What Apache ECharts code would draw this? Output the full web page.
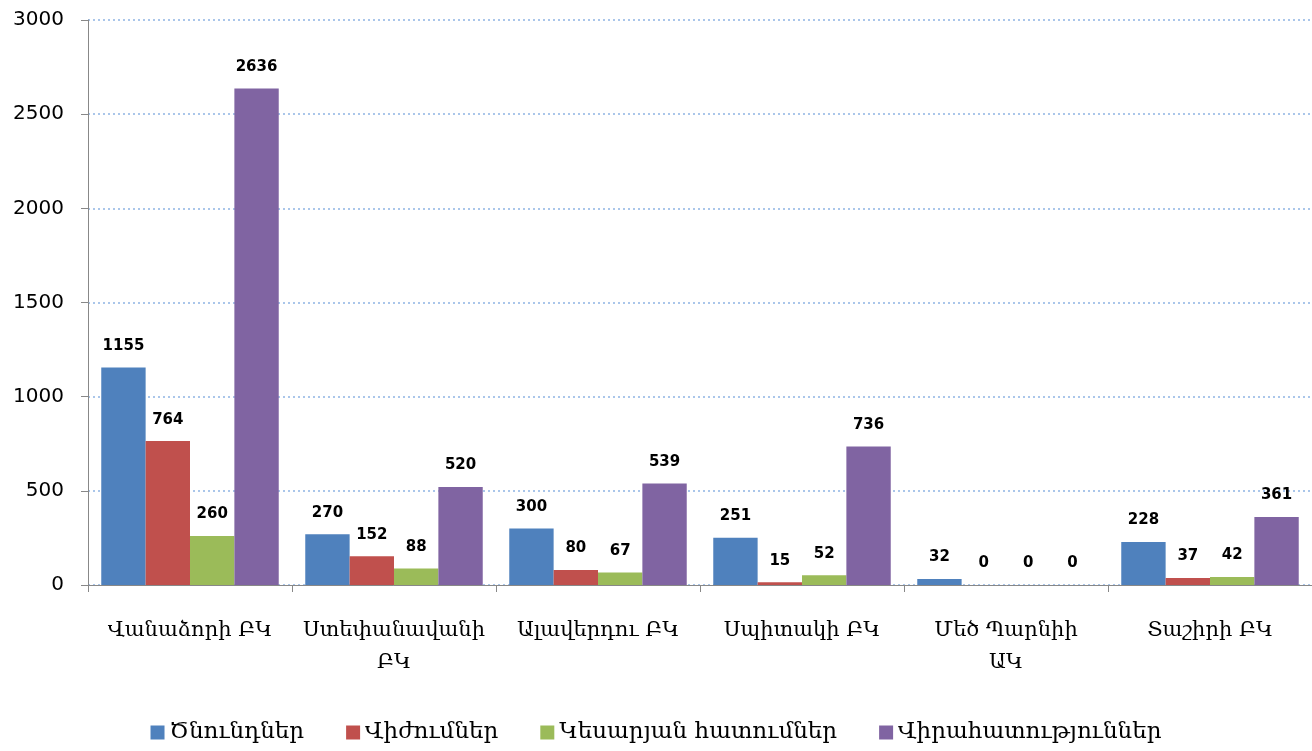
<!DOCTYPE html>
<html>
<head>
<meta charset="utf-8">
<script src="https://cdn.jsdelivr.net/npm/echarts@6/dist/echarts.min.js"></script>
<style>
  html, body { margin: 0; padding: 0; background: #fff; }
  #chart { width: 1312px; height: 751px; }
</style>
</head>
<body>
<div id="chart"></div>
<script>
const categories = ["Վանաձորի ԲԿ", "Ստեփանավանի\nԲԿ", "Ալավերդու ԲԿ", "Սպիտակի ԲԿ", "Մեծ Պարնիի\nԱԿ", "Տաշիրի ԲԿ"];
const seriesNames = ["Ծնունդներ", "Վիժումներ", "Կեսարյան հատումներ", "Վիրահատություններ"];
const births = [1155, 270, 300, 251, 32, 228];
const abortions = [764, 152, 80, 15, 0, 37];
const cesareans = [260, 88, 67, 52, 0, 42];
const surgeries = [2636, 520, 539, 736, 0, 361];
const colors = ["#4F81BD", "#C0504D", "#9BBB59", "#8064A2"];

const serif = "'DejaVu Serif', 'Liberation Serif', serif";
const sans = "'DejaVu Sans', 'Open Sans', sans-serif";

let myChart = echarts.init(document.getElementById("chart"));
myChart.setOption({
  backgroundColor: "#fff",
  animation: false,
  color: colors,
  grid: {
    left: 88,
    right: 0,
    top: 20,
    bottom: 166
  },
  legend: {
    bottom: 2,
    left: "center",
    itemWidth: 14,
    itemHeight: 14,
    itemGap: 42,
    icon: "rect",
    textStyle: {
      fontFamily: serif,
      fontSize: 23,
      color: "#000"
    },
    data: seriesNames
  },
  xAxis: {
    type: "category",
    data: categories,
    axisLine: {
      lineStyle: { color: "#888", width: 1 }
    },
    axisTick: {
      show: true,
      length: 7,
      lineStyle: { color: "#888" }
    },
    axisLabel: {
      interval: 0,
      margin: 30,
      fontFamily: serif,
      fontSize: 21,
      lineHeight: 32,
      color: "#000"
    }
  },
  yAxis: {
    type: "value",
    min: 0,
    max: 3000,
    interval: 500,
    axisLine: {
      show: true,
      lineStyle: { color: "#888" }
    },
    axisTick: {
      show: true,
      length: 7,
      lineStyle: { color: "#888" }
    },
    axisLabel: {
      margin: 24,
      fontFamily: sans,
      fontSize: 20,
      color: "#000",
      formatter: (v) => String(v)
    },
    splitLine: {
      show: true,
      lineStyle: { color: "#8EB4E3", type: [2, 3], width: 1.5 }
    }
  },
  series: [births, abortions, cesareans, surgeries].map((d, i) => ({
    name: seriesNames[i],
    type: "bar",
    data: d,
    barGap: "0%",
    barCategoryGap: "13%",
    label: {
      show: true,
      position: "top",
      distance: 14,
      fontFamily: sans,
      fontSize: 15,
      fontWeight: "bold",
      color: "#000"
    }
  }))
});
</script>
</body>
</html>
